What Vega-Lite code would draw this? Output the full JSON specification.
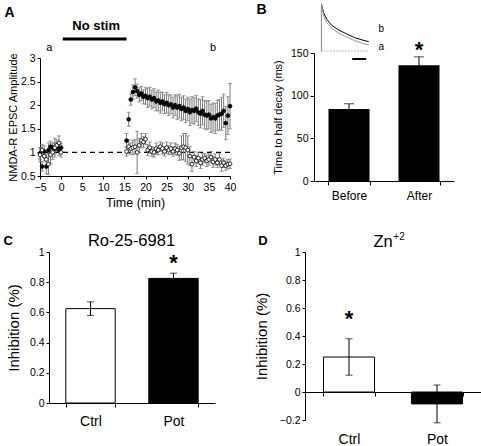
{
  "$schema": "https://vega.github.io/schema/vega-lite/v6.json",
  "padding": {"left": 3, "top": 1, "right": 0, "bottom": 0},
  "config": {
    "font": "Liberation Sans",
    "view": {"stroke": null},
    "axis": {"grid": false, "domainColor": "black", "tickColor": "black", "labelColor": "black", "titleColor": "black", "labelFont": "Liberation Sans", "titleFont": "Liberation Sans", "titleFontWeight": "normal", "labelFontSize": 10.5, "tickSize": 4, "labelFlush": false, "labelOverlap": false},
    "title": {"fontWeight": "bold", "anchor": "start", "frame": "bounds", "color": "black", "font": "Liberation Sans"},
    "text": {"font": "Liberation Sans", "color": "black"}
  },
  "datasets": {
    "timecourse": [
      {"t": -5, "v": 0.98, "e": 0.12, "g": "pot"}, {"t": -4.5, "v": 0.7, "e": 0.1, "g": "pot"}, {"t": -4, "v": 1.02, "e": 0.12, "g": "pot"}, {"t": -3.5, "v": 0.7, "e": 0.15, "g": "pot"}, {"t": -3, "v": 1.05, "e": 0.15, "g": "pot"}, {"t": -2.5, "v": 1.12, "e": 0.12, "g": "pot"}, {"t": -2, "v": 1.1, "e": 0.1, "g": "pot"}, {"t": -1.5, "v": 1.08, "e": 0.12, "g": "pot"}, {"t": -1, "v": 1.12, "e": 0.1, "g": "pot"}, {"t": -0.5, "v": 1.05, "e": 0.12, "g": "pot"}, {"t": 0, "v": 1.1, "e": 0.1, "g": "pot"},
      {"t": 15.5, "v": 1.25, "e": 0.15, "g": "pot"}, {"t": 16, "v": 1.7, "e": 0.15, "g": "pot"}, {"t": 16.5, "v": 2.12, "e": 0.12, "g": "pot"}, {"t": 17, "v": 2.28, "e": 0.15, "g": "pot"}, {"t": 17.5, "v": 2.38, "e": 0.18, "g": "pot"}, {"t": 18, "v": 2.3, "e": 0.15, "g": "pot"}, {"t": 18.5, "v": 2.22, "e": 0.15, "g": "pot"}, {"t": 19, "v": 2.25, "e": 0.15, "g": "pot"}, {"t": 19.5, "v": 2.18, "e": 0.15, "g": "pot"}, {"t": 20, "v": 2.2, "e": 0.18, "g": "pot"},
      {"t": 20.5, "v": 2.15, "e": 0.2, "g": "pot"}, {"t": 21, "v": 2.18, "e": 0.2, "g": "pot"}, {"t": 21.5, "v": 2.12, "e": 0.2, "g": "pot"}, {"t": 22, "v": 2.15, "e": 0.2, "g": "pot"}, {"t": 22.5, "v": 2.08, "e": 0.2, "g": "pot"}, {"t": 23, "v": 2.1, "e": 0.22, "g": "pot"}, {"t": 23.5, "v": 2.05, "e": 0.22, "g": "pot"}, {"t": 24, "v": 2.08, "e": 0.2, "g": "pot"}, {"t": 24.5, "v": 2.02, "e": 0.2, "g": "pot"}, {"t": 25, "v": 2.05, "e": 0.22, "g": "pot"},
      {"t": 25.5, "v": 2.0, "e": 0.22, "g": "pot"}, {"t": 26, "v": 2.02, "e": 0.2, "g": "pot"}, {"t": 26.5, "v": 1.95, "e": 0.22, "g": "pot"}, {"t": 27, "v": 2.0, "e": 0.22, "g": "pot"}, {"t": 27.5, "v": 1.95, "e": 0.25, "g": "pot"}, {"t": 28, "v": 1.98, "e": 0.25, "g": "pot"}, {"t": 28.5, "v": 1.92, "e": 0.25, "g": "pot"}, {"t": 29, "v": 1.95, "e": 0.25, "g": "pot"}, {"t": 29.5, "v": 1.88, "e": 0.25, "g": "pot"}, {"t": 30, "v": 1.92, "e": 0.25, "g": "pot"},
      {"t": 30.5, "v": 1.85, "e": 0.28, "g": "pot"}, {"t": 31, "v": 1.9, "e": 0.28, "g": "pot"}, {"t": 31.5, "v": 1.88, "e": 0.28, "g": "pot"}, {"t": 32, "v": 1.93, "e": 0.28, "g": "pot"}, {"t": 32.5, "v": 1.85, "e": 0.28, "g": "pot"}, {"t": 33, "v": 1.82, "e": 0.3, "g": "pot"}, {"t": 33.5, "v": 1.88, "e": 0.3, "g": "pot"}, {"t": 34, "v": 1.8, "e": 0.3, "g": "pot"}, {"t": 34.5, "v": 1.78, "e": 0.3, "g": "pot"}, {"t": 35, "v": 1.8, "e": 0.3, "g": "pot"},
      {"t": 35.5, "v": 1.72, "e": 0.3, "g": "pot"}, {"t": 36, "v": 1.75, "e": 0.3, "g": "pot"}, {"t": 36.5, "v": 1.72, "e": 0.32, "g": "pot"}, {"t": 37, "v": 1.78, "e": 0.32, "g": "pot"}, {"t": 37.5, "v": 1.8, "e": 0.32, "g": "pot"}, {"t": 38, "v": 1.82, "e": 0.35, "g": "pot"}, {"t": 38.5, "v": 1.88, "e": 0.35, "g": "pot"}, {"t": 39, "v": 1.62, "e": 0.35, "g": "pot"}, {"t": 39.5, "v": 1.78, "e": 0.4, "g": "pot"}, {"t": 40, "v": 1.98, "e": 0.48, "g": "pot"},
      {"t": -5, "v": 0.95, "e": 0.15, "g": "ctrl"}, {"t": -4.5, "v": 1.05, "e": 0.12, "g": "ctrl"}, {"t": -4, "v": 0.92, "e": 0.1, "g": "ctrl"}, {"t": -3.5, "v": 0.85, "e": 0.12, "g": "ctrl"}, {"t": -3, "v": 0.75, "e": 0.22, "g": "ctrl"}, {"t": -2.5, "v": 0.95, "e": 0.2, "g": "ctrl"}, {"t": -2, "v": 1.0, "e": 0.15, "g": "ctrl"}, {"t": -1.5, "v": 1.1, "e": 0.2, "g": "ctrl"}, {"t": -1, "v": 1.15, "e": 0.12, "g": "ctrl"}, {"t": -0.5, "v": 1.2, "e": 0.15, "g": "ctrl"}, {"t": 0, "v": 1.0, "e": 0.1, "g": "ctrl"},
      {"t": 15.5, "v": 1.02, "e": 0.1, "g": "ctrl"}, {"t": 16, "v": 1.12, "e": 0.15, "g": "ctrl"}, {"t": 16.5, "v": 1.08, "e": 0.12, "g": "ctrl"}, {"t": 17, "v": 1.1, "e": 0.15, "g": "ctrl"}, {"t": 17.5, "v": 1.12, "e": 0.15, "g": "ctrl"}, {"t": 18, "v": 1.0, "e": 0.45, "g": "ctrl"}, {"t": 18.5, "v": 1.15, "e": 0.15, "g": "ctrl"}, {"t": 19, "v": 1.25, "e": 0.15, "g": "ctrl"}, {"t": 19.5, "v": 1.22, "e": 0.12, "g": "ctrl"}, {"t": 20, "v": 1.28, "e": 0.12, "g": "ctrl"},
      {"t": 20.5, "v": 1.05, "e": 0.12, "g": "ctrl"}, {"t": 21, "v": 1.1, "e": 0.12, "g": "ctrl"}, {"t": 21.5, "v": 1.02, "e": 0.1, "g": "ctrl"}, {"t": 22, "v": 1.0, "e": 0.1, "g": "ctrl"}, {"t": 22.5, "v": 1.08, "e": 0.12, "g": "ctrl"}, {"t": 23, "v": 1.05, "e": 0.1, "g": "ctrl"}, {"t": 23.5, "v": 1.12, "e": 0.1, "g": "ctrl"}, {"t": 24, "v": 1.08, "e": 0.12, "g": "ctrl"}, {"t": 24.5, "v": 1.02, "e": 0.1, "g": "ctrl"}, {"t": 25, "v": 1.1, "e": 0.12, "g": "ctrl"},
      {"t": 25.5, "v": 1.05, "e": 0.1, "g": "ctrl"}, {"t": 26, "v": 1.08, "e": 0.12, "g": "ctrl"}, {"t": 26.5, "v": 1.02, "e": 0.1, "g": "ctrl"}, {"t": 27, "v": 1.08, "e": 0.12, "g": "ctrl"}, {"t": 27.5, "v": 1.05, "e": 0.12, "g": "ctrl"}, {"t": 28, "v": 0.98, "e": 0.15, "g": "ctrl"}, {"t": 28.5, "v": 1.1, "e": 0.25, "g": "ctrl"}, {"t": 29, "v": 1.12, "e": 0.28, "g": "ctrl"}, {"t": 29.5, "v": 1.1, "e": 0.3, "g": "ctrl"}, {"t": 30, "v": 1.05, "e": 0.3, "g": "ctrl"},
      {"t": 30.5, "v": 0.92, "e": 0.2, "g": "ctrl"}, {"t": 31, "v": 0.75, "e": 0.15, "g": "ctrl"}, {"t": 31.5, "v": 0.9, "e": 0.12, "g": "ctrl"}, {"t": 32, "v": 0.82, "e": 0.12, "g": "ctrl"}, {"t": 32.5, "v": 0.88, "e": 0.12, "g": "ctrl"}, {"t": 33, "v": 0.78, "e": 0.12, "g": "ctrl"}, {"t": 33.5, "v": 0.85, "e": 0.12, "g": "ctrl"}, {"t": 34, "v": 0.88, "e": 0.1, "g": "ctrl"}, {"t": 34.5, "v": 0.82, "e": 0.12, "g": "ctrl"}, {"t": 35, "v": 0.85, "e": 0.12, "g": "ctrl"},
      {"t": 35.5, "v": 0.9, "e": 0.12, "g": "ctrl"}, {"t": 36, "v": 0.8, "e": 0.12, "g": "ctrl"}, {"t": 36.5, "v": 0.85, "e": 0.12, "g": "ctrl"}, {"t": 37, "v": 0.78, "e": 0.1, "g": "ctrl"}, {"t": 37.5, "v": 0.85, "e": 0.12, "g": "ctrl"}, {"t": 38, "v": 0.72, "e": 0.12, "g": "ctrl"}, {"t": 38.5, "v": 0.78, "e": 0.1, "g": "ctrl"}, {"t": 39, "v": 0.72, "e": 0.1, "g": "ctrl"}, {"t": 39.5, "v": 0.75, "e": 0.1, "g": "ctrl"}, {"t": 40, "v": 0.76, "e": 0.1, "g": "ctrl"}
    ],
    "decay": [
      {"cond": "Before", "ms": 84.5, "e": 6},
      {"cond": "After", "ms": 135.5, "e": 10}
    ],
    "inset": [
      {"i": 0, "x": 5.33, "y": 152.3, "trace": "b"}, {"i": 1, "x": 5.33, "y": 207.6, "trace": "b"}, {"i": 2, "x": 6.87, "y": 197.1, "trace": "b"}, {"i": 3, "x": 9.13, "y": 189.4, "trace": "b"}, {"i": 4, "x": 12.47, "y": 182.7, "trace": "b"}, {"i": 5, "x": 16.87, "y": 177.7, "trace": "b"}, {"i": 6, "x": 22.47, "y": 173.0, "trace": "b"}, {"i": 7, "x": 29.13, "y": 167.9, "trace": "b"}, {"i": 8, "x": 34.67, "y": 165.2, "trace": "b"}, {"i": 9, "x": 39.13, "y": 163.2, "trace": "b"},
      {"i": 0, "x": 5.33, "y": 152.3, "trace": "a"}, {"i": 1, "x": 5.33, "y": 207.6, "trace": "a"}, {"i": 2, "x": 6.87, "y": 193.6, "trace": "a"}, {"i": 3, "x": 9.13, "y": 185.7, "trace": "a"}, {"i": 4, "x": 12.47, "y": 179.2, "trace": "a"}, {"i": 5, "x": 16.87, "y": 174.0, "trace": "a"}, {"i": 6, "x": 22.47, "y": 169.4, "trace": "a"}, {"i": 7, "x": 29.13, "y": 164.4, "trace": "a"}, {"i": 8, "x": 34.67, "y": 161.3, "trace": "a"}, {"i": 9, "x": 39.13, "y": 159.4, "trace": "a"}
    ],
    "ro": [
      {"g": "Ctrl", "v": 0.625, "e": 0.045},
      {"g": "Pot", "v": 0.825, "e": 0.035}
    ],
    "zn": [
      {"g": "Ctrl", "v": 0.25, "e": 0.13},
      {"g": "Pot", "v": -0.085, "e": 0.135}
    ]
  },
  "bounds": "full",
  "spacing": 23,
  "vconcat": [
    {
      "hconcat": [
        {
          "width": 190,
          "height": 118,
          "title": {"text": "A", "fontSize": 14, "offset": 0, "dx": -3},
          "layer": [
            {
              "data": {"values": [{}]},
              "mark": {"type": "rule", "strokeDash": [5, 4], "color": "black", "strokeWidth": 1.2},
              "encoding": {"y": {"datum": 1, "scale": {"domain": [0.5, 3], "nice": false, "zero": false}, "axis": {"values": [0.5, 1, 1.5, 2, 2.5, 3], "tickCount": 20, "format": "~g", "title": "NMDA-R EPSC Amplitude", "titleFontSize": 11, "titlePadding": 2, "tickSize": 3, "labelOverlap": false}}}
            },
            {
              "data": {"name": "timecourse"},
              "mark": {"type": "errorbar", "ticks": {"size": 4}, "color": "#7a7a7a", "thickness": 1},
              "encoding": {
                "x": {"field": "t", "type": "quantitative", "scale": {"domain": [-5, 40], "nice": false}, "axis": {"values": [-5, 0, 5, 10, 15, 20, 25, 30, 35, 40], "tickCount": 20, "title": "Time (min)", "titleFontSize": 12.5, "titlePadding": 4, "tickSize": 3, "labelPadding": 3, "labelOverlap": false, "labelFlush": false}},
                "y": {"field": "v", "type": "quantitative", "scale": {"domain": [0.5, 3], "nice": false, "zero": false}, "axis": {"values": [0.5, 1, 1.5, 2, 2.5, 3], "tickCount": 20, "format": "~g", "title": "NMDA-R EPSC Amplitude", "titleFontSize": 11, "titlePadding": 2, "tickSize": 3, "labelOverlap": false}},
                "yError": {"field": "e"},
                "detail": {"field": "g"}
              }
            },
            {
              "data": {"name": "timecourse"},
              "mark": {"type": "circle", "size": 14, "stroke": "black", "strokeWidth": 0.8, "opacity": 1},
              "encoding": {
                "x": {"field": "t", "type": "quantitative", "scale": {"domain": [-5, 40], "nice": false}, "axis": {"values": [-5, 0, 5, 10, 15, 20, 25, 30, 35, 40], "tickCount": 20, "title": "Time (min)", "titleFontSize": 12.5, "titlePadding": 4, "tickSize": 3, "labelPadding": 3, "labelOverlap": false, "labelFlush": false}},
                "y": {"field": "v", "type": "quantitative", "scale": {"domain": [0.5, 3], "nice": false, "zero": false}, "axis": {"values": [0.5, 1, 1.5, 2, 2.5, 3], "tickCount": 20, "format": "~g", "title": "NMDA-R EPSC Amplitude", "titleFontSize": 11, "titlePadding": 2, "tickSize": 3, "labelOverlap": false}},
                "fill": {"condition": {"test": "datum.g === 'pot'", "value": "black"}, "value": "white"}
              }
            },
            {
              "data": {"values": [{}]},
              "mark": {"type": "text", "text": "No stim", "fontWeight": "bold", "fontSize": 13},
              "encoding": {"x": {"datum": 8.3, "scale": {"domain": [-5, 40], "nice": false}}, "y": {"datum": 3.68, "scale": {"domain": [0.5, 3], "nice": false, "zero": false}}}
            },
            {
              "data": {"values": [{}]},
              "mark": {"type": "rule", "strokeWidth": 3, "color": "black"},
              "encoding": {"x": {"datum": 0.4, "scale": {"domain": [-5, 40], "nice": false}}, "x2": {"datum": 15.5}, "y": {"datum": 3.4, "scale": {"domain": [0.5, 3], "nice": false, "zero": false}}}
            },
            {
              "data": {"values": [{}]},
              "mark": {"type": "text", "text": "a", "fontSize": 11},
              "encoding": {"x": {"datum": -2.8, "scale": {"domain": [-5, 40], "nice": false}}, "y": {"datum": 3.21, "scale": {"domain": [0.5, 3], "nice": false, "zero": false}}}
            },
            {
              "data": {"values": [{}]},
              "mark": {"type": "text", "text": "b", "fontSize": 11},
              "encoding": {"x": {"datum": 36, "scale": {"domain": [-5, 40], "nice": false}}, "y": {"datum": 3.21, "scale": {"domain": [0.5, 3], "nice": false, "zero": false}}}
            }
          ]
        },
        {
          "width": 140,
          "height": 128,
          "title": {"text": "B", "fontSize": 14, "offset": 0, "dy": 15, "dx": -16},
          "layer": [
            {
              "data": {"name": "decay"},
              "layer": [
                {
                  "mark": {"type": "bar", "color": "black"},
                  "encoding": {
                    "x": {"field": "cond", "type": "nominal", "sort": ["Before", "After"], "scale": {"paddingInner": 0.414, "paddingOuter": 0.207}, "axis": {"title": null, "labelAngle": 0, "labelFontSize": 12, "tickBand": "extent", "tickSize": 4, "labelPadding": 5}},
                    "y": {"field": "ms", "type": "quantitative", "scale": {"domain": [0, 150], "nice": false}, "axis": {"values": [0, 50, 100, 150], "tickCount": 20, "title": "Time to half decay (ms)", "titleFontSize": 11, "titlePadding": 7, "tickSize": 4, "labelOverlap": false}}
                  }
                },
                {
                  "mark": {"type": "errorbar", "ticks": {"size": 10}, "color": "black", "thickness": 1},
                  "encoding": {
                    "x": {"field": "cond", "type": "nominal", "sort": ["Before", "After"], "axis": {"title": null, "labelAngle": 0, "labelFontSize": 12, "tickBand": "extent", "tickSize": 4, "labelPadding": 5}},
                    "y": {"field": "ms", "type": "quantitative", "scale": {"domain": [0, 150], "nice": false}, "axis": {"values": [0, 50, 100, 150], "tickCount": 20, "title": "Time to half decay (ms)", "titleFontSize": 11, "titlePadding": 7, "tickSize": 4, "labelOverlap": false}},
                    "yError": {"field": "e"}
                  }
                },
                {
                  "data": {"values": [{}]},
                  "mark": {"type": "text", "text": "*", "fontSize": 22, "fontWeight": "bold", "baseline": "middle"},
                  "encoding": {"x": {"datum": "After"}, "y": {"datum": 153, "scale": {"domain": [0, 150], "nice": false}}}
                }
              ]
            },
            {
              "layer": [
                {
                  "data": {"name": "inset"},
                  "mark": {"type": "line", "strokeWidth": 1},
                  "encoding": {
                    "x": {"field": "x", "type": "quantitative", "scale": {"domain": [0, 100], "nice": false}, "axis": null},
                    "y": {"field": "y", "type": "quantitative", "scale": {"domain": [0, 150], "nice": false}, "axis": {"values": [0, 50, 100, 150], "tickCount": 20, "title": "Time to half decay (ms)", "titleFontSize": 11, "titlePadding": 7, "tickSize": 4, "labelOverlap": false}},
                    "detail": {"field": "trace"},
                    "color": {"condition": {"test": "datum.trace === 'b'", "value": "black"}, "value": "#9a9a9a"},
                    "order": {"field": "i", "type": "quantitative"}
                  }
                },
                {
                  "data": {"values": [{}]},
                  "mark": {"type": "rule", "strokeDash": [1, 2], "color": "#777", "strokeWidth": 1},
                  "encoding": {"x": {"datum": 5.33, "scale": {"domain": [0, 100], "nice": false}, "axis": null}, "x2": {"datum": 39.1}, "y": {"datum": 152.3, "scale": {"domain": [0, 150], "nice": false}}}
                },
                {
                  "data": {"values": [{}]},
                  "mark": {"type": "rule", "color": "black", "strokeWidth": 2},
                  "encoding": {"x": {"datum": 27.3, "scale": {"domain": [0, 100], "nice": false}, "axis": null}, "x2": {"datum": 37.3}, "y": {"datum": 143, "scale": {"domain": [0, 150], "nice": false}}}
                },
                {
                  "data": {"values": [{}]},
                  "mark": {"type": "text", "text": "b", "fontSize": 10},
                  "encoding": {"x": {"datum": 48, "scale": {"domain": [0, 100], "nice": false}, "axis": null}, "y": {"datum": 178, "scale": {"domain": [0, 150], "nice": false}}}
                },
                {
                  "data": {"values": [{}]},
                  "mark": {"type": "text", "text": "a", "fontSize": 10},
                  "encoding": {"x": {"datum": 48, "scale": {"domain": [0, 100], "nice": false}, "axis": null}, "y": {"datum": 157, "scale": {"domain": [0, 150], "nice": false}}}
                }
              ]
            }
          ],
          "resolve": {"scale": {"x": "independent"}, "axis": {"x": "independent"}}
        }
      ],
      "spacing": 84,
      "center": true,
      "bounds": "flush"
    },
    {
      "hconcat": [
        {
          "width": 175,
          "height": 151,
          "title": {"text": "C", "fontSize": 13, "offset": 0, "dy": 15, "dx": -3},
          "layer": [
            {
              "data": {"name": "ro"},
              "layer": [
                {
                  "mark": {"type": "bar", "stroke": "black", "strokeWidth": 1},
                  "encoding": {
                    "x": {"field": "g", "type": "nominal", "sort": ["Ctrl", "Pot"], "scale": {"range": [9, 175], "paddingInner": 0.405, "paddingOuter": 0.2025}, "axis": {"title": null, "labelAngle": 0, "labelFontSize": 14, "tickBand": "extent", "tickSize": 4, "labelPadding": 7}},
                    "y": {"field": "v", "type": "quantitative", "scale": {"domain": [0, 1], "nice": false}, "axis": {"values": [0, 0.2, 0.4, 0.6, 0.8, 1], "tickCount": 20, "format": "~g", "title": "Inhibition (%)", "titleFontSize": 15, "titlePadding": 8, "tickSize": 3, "offset": -9, "labelOverlap": false}},
                    "fill": {"condition": {"test": "datum.g === 'Pot'", "value": "black"}, "value": "white"}
                  }
                },
                {
                  "mark": {"type": "errorbar", "ticks": {"size": 7}, "color": "black", "thickness": 1},
                  "encoding": {
                    "x": {"field": "g", "type": "nominal", "sort": ["Ctrl", "Pot"], "axis": {"title": null, "labelAngle": 0, "labelFontSize": 14, "tickBand": "extent", "tickSize": 4, "labelPadding": 7}},
                    "y": {"field": "v", "type": "quantitative", "scale": {"domain": [0, 1], "nice": false}, "axis": {"values": [0, 0.2, 0.4, 0.6, 0.8, 1], "tickCount": 20, "format": "~g", "title": "Inhibition (%)", "titleFontSize": 15, "titlePadding": 8, "tickSize": 3, "offset": -9, "labelOverlap": false}},
                    "yError": {"field": "e"}
                  }
                }
              ]
            },
            {
              "data": {"values": [{}]},
              "mark": {"type": "text", "text": "*", "fontSize": 22, "fontWeight": "bold", "baseline": "middle"},
              "encoding": {"x": {"datum": "Pot"}, "y": {"datum": 0.93, "scale": {"domain": [0, 1], "nice": false}}}
            },
            {
              "data": {"values": [{}]},
              "mark": {"type": "text", "text": "Ro-25-6981", "fontSize": 16.5, "baseline": "middle", "dx": 4},
              "encoding": {"y": {"datum": 1.07, "scale": {"domain": [0, 1], "nice": false}}}
            }
          ]
        },
        {
          "width": 176,
          "height": 168,
          "title": {"text": "D", "fontSize": 13, "offset": 0, "dy": 16, "dx": 4},
          "layer": [
            {
              "data": {"name": "zn"},
              "layer": [
                {
                  "mark": {"type": "bar", "stroke": "black", "strokeWidth": 1},
                  "encoding": {
                    "x": {"field": "g", "type": "nominal", "sort": ["Ctrl", "Pot"], "scale": {"paddingInner": 0.42, "paddingOuter": 0.21}, "axis": {"title": null, "labelAngle": 0, "labelFontSize": 14, "tickBand": "extent", "tickSize": 4, "offset": -28, "labelPadding": 36}},
                    "y": {"field": "v", "type": "quantitative", "scale": {"domain": [-0.2, 1], "nice": false}, "axis": {"values": [-0.2, 0, 0.2, 0.4, 0.6, 0.8, 1], "tickCount": 20, "format": "~g", "title": "Inhibition (%)", "titleFontSize": 15, "titlePadding": 10, "tickSize": 3, "labelOverlap": false}},
                    "fill": {"condition": {"test": "datum.g === 'Pot'", "value": "black"}, "value": "white"}
                  }
                },
                {
                  "mark": {"type": "errorbar", "ticks": {"size": 7}, "color": "black", "thickness": 1},
                  "encoding": {
                    "x": {"field": "g", "type": "nominal", "sort": ["Ctrl", "Pot"], "axis": {"title": null, "labelAngle": 0, "labelFontSize": 14, "tickBand": "extent", "tickSize": 4, "offset": -28, "labelPadding": 36}},
                    "y": {"field": "v", "type": "quantitative", "scale": {"domain": [-0.2, 1], "nice": false}, "axis": {"values": [-0.2, 0, 0.2, 0.4, 0.6, 0.8, 1], "tickCount": 20, "format": "~g", "title": "Inhibition (%)", "titleFontSize": 15, "titlePadding": 10, "tickSize": 3, "labelOverlap": false}},
                    "yError": {"field": "e"}
                  }
                }
              ]
            },
            {
              "data": {"values": [{}]},
              "mark": {"type": "text", "text": "*", "fontSize": 22, "fontWeight": "bold", "baseline": "middle"},
              "encoding": {"x": {"datum": "Ctrl"}, "y": {"datum": 0.52, "scale": {"domain": [-0.2, 1], "nice": false}}}
            },
            {
              "data": {"values": [{}]},
              "mark": {"type": "text", "text": "Zn", "fontSize": 16.5, "baseline": "middle", "dx": -10},
              "encoding": {"y": {"datum": 1.07, "scale": {"domain": [-0.2, 1], "nice": false}}}
            },
            {
              "data": {"values": [{}]},
              "mark": {"type": "text", "text": "+2", "fontSize": 10, "baseline": "middle", "dx": 6, "dy": -5},
              "encoding": {"y": {"datum": 1.07, "scale": {"domain": [-0.2, 1], "nice": false}}}
            }
          ]
        }
      ],
      "spacing": 90,
      "bounds": "flush"
    }
  ]
}
